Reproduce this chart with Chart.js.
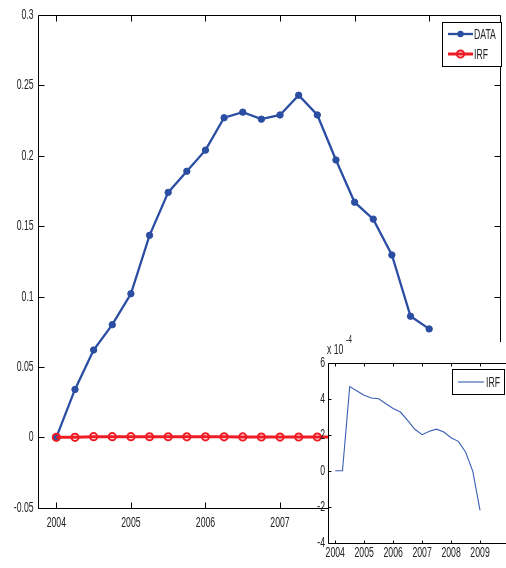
<!DOCTYPE html>
<html>
<head>
<meta charset="utf-8">
<script src="https://cdn.jsdelivr.net/npm/chart.js@4"></script>
<style>
html,body{margin:0;padding:0;background:#fff;overflow:hidden;width:506px;height:568px;}
#main{position:absolute;left:0;top:0;}
#inset{position:absolute;left:300px;top:335px;}
</style>
</head>
<body>
<canvas id="main" width="506" height="568"></canvas>
<canvas id="inset" width="215" height="233"></canvas>
<script>
// ---- data ----
const quarters = [2004, 2004.25, 2004.5, 2004.75, 2005, 2005.25, 2005.5, 2005.75, 2006, 2006.25, 2006.5,
                  2006.75, 2007, 2007.25, 2007.5, 2007.75, 2008, 2008.25, 2008.5, 2008.75, 2009];
const dataValues = [0, 0.034, 0.062, 0.080, 0.102, 0.1435, 0.174, 0.189, 0.204, 0.227, 0.231,
                    0.226, 0.229, 0.243, 0.229, 0.197, 0.167, 0.155, 0.1295, 0.086, 0.077];
// IRF in units of 1e-4
const irfValues = [0, 0, 4.67, 4.43, 4.19, 4.04, 4.0, 3.72, 3.46, 3.26, 2.8,
                   2.3, 2.0, 2.19, 2.31, 2.15, 1.83, 1.63, 1.04, -0.04, -2.2];
const irfScale = 1e-4;
const mainXTicks = [2004, 2005, 2006, 2007, 2008, 2009];
const mainYTicks = [-0.05, 0, 0.05, 0.1, 0.15, 0.2, 0.25, 0.3];
const insetXTicks = [2004, 2005, 2006, 2007, 2008, 2009];
const insetYTicks = [-4, -2, 0, 2, 4, 6];
const seriesNames = ['DATA', 'IRF'];

const BLUE = '#2b4ea3';
const RED = '#ee1c25';
const INSET_BLUE = '#3a5eb5';
const FONT = "'Liberation Sans', Arial, sans-serif";
const FSIZE = 14.5;
const SX = 0.6;   // horizontal squeeze of text, as in the reference
const TXT = '#222';

function pts(xs, ys, k) { return xs.map((x, i) => ({x: x, y: ys[i] * (k || 1)})); }

function fmt(v) {
  const r = Math.round(v * 1000) / 1000;
  return String(r);
}

function txt(ctx, s, x, y, align, size) {
  ctx.save();
  ctx.translate(x, y);
  ctx.scale(SX, 1);
  ctx.font = (size || FSIZE) + "px " + FONT;
  ctx.fillStyle = TXT;
  ctx.textAlign = align;
  ctx.textBaseline = 'middle';
  ctx.fillText(s, 0, 0);
  ctx.restore();
}

// Box + inward ticks on all four sides + tick labels
function boxPlugin(tickLen, xLabelY, yLabelPad, fmtY, fmtX) {
  return {
    id: 'box',
    afterDatasetsDraw(chart) {
      const {ctx, chartArea: a, scales} = chart;
      ctx.save();
      ctx.strokeStyle = '#000';
      ctx.lineWidth = 1;
      ctx.beginPath();
      const L = Math.round(a.left) + 0.5, R = Math.round(a.right) + 0.5;
      const T = Math.round(a.top) + 0.5, B = Math.round(a.bottom) + 0.5;
      ctx.rect(L, T, R - L, B - T);
      scales.x.ticks.forEach(t => {
        const px = Math.round(scales.x.getPixelForValue(t.value)) + 0.5;
        ctx.moveTo(px, B); ctx.lineTo(px, B - tickLen);
        ctx.moveTo(px, T); ctx.lineTo(px, T + tickLen);
      });
      scales.y.ticks.forEach(t => {
        const py = Math.round(scales.y.getPixelForValue(t.value)) + 0.5;
        ctx.moveTo(L, py); ctx.lineTo(L + tickLen, py);
        ctx.moveTo(R, py); ctx.lineTo(R - tickLen, py);
      });
      ctx.stroke();
      ctx.restore();
      scales.x.ticks.forEach(t => {
        txt(ctx, fmtX(t.value), scales.x.getPixelForValue(t.value), a.bottom + xLabelY, 'center');
      });
      scales.y.ticks.forEach(t => {
        txt(ctx, fmtY(t.value), a.left - yLabelPad, scales.y.getPixelForValue(t.value), 'right');
      });
    }
  };
}

// ---- main chart ----
const mainLegend = {
  id: 'mainLegend',
  afterDraw(chart) {
    const ctx = chart.ctx;
    const ds = chart.data.datasets;
    const bx = 442.5, by = 22.5, bw = 59, bh = 44;
    ctx.save();
    ctx.fillStyle = '#fff';
    ctx.fillRect(bx, by, bw, bh);
    ctx.strokeStyle = '#000';
    ctx.lineWidth = 1;
    ctx.strokeRect(bx, by, bw, bh);
    const rows = [34, 54];
    ds.forEach((d, i) => {
      const y = rows[i];
      ctx.strokeStyle = d.borderColor;
      ctx.lineWidth = d.borderWidth;
      ctx.beginPath(); ctx.moveTo(448, y); ctx.lineTo(473, y); ctx.stroke();
      ctx.beginPath(); ctx.arc(460.5, y, d.pointRadius, 0, Math.PI * 2);
      if (d.pointStyleFill) { ctx.fillStyle = d.borderColor; ctx.fill(); }
      else { ctx.lineWidth = d.pointBorderWidth; ctx.stroke(); }
      txt(ctx, d.label, 474, y + 0.5, 'left');
    });
    ctx.restore();
  }
};

new Chart(document.getElementById('main'), {
  type: 'line',
  data: {
    datasets: [
      {
        label: seriesNames[0],
        data: pts(quarters, dataValues),
        borderColor: BLUE, backgroundColor: BLUE,
        borderWidth: 2.3, pointRadius: 3.2, pointBorderWidth: 1,
        pointBackgroundColor: BLUE, pointBorderColor: BLUE,
        pointStyleFill: true, tension: 0, order: 2
      },
      {
        label: seriesNames[1],
        data: pts(quarters, irfValues, irfScale),
        borderColor: RED, backgroundColor: RED,
        borderWidth: 3, pointRadius: 3.6, pointBorderWidth: 2,
        pointBackgroundColor: 'rgba(255,255,255,0)', pointBorderColor: RED,
        pointStyleFill: false, tension: 0, order: 1
      }
    ]
  },
  options: {
    responsive: false, animation: false, devicePixelRatio: 1,
    layout: {padding: {top: 15, right: 4, left: 0, bottom: 0}},
    plugins: {legend: {display: false}, tooltip: {enabled: false}},
    scales: {
      x: {
        type: 'linear', min: 2003.75, max: 2009.95,
        afterBuildTicks: s => { s.ticks = mainXTicks.map(v => ({value: v})); },
        afterFit: s => { s.height = 60.3; },
        grid: {display: false, drawTicks: false}, border: {display: false},
        ticks: {display: false}
      },
      y: {
        type: 'linear', min: -0.05, max: 0.3,
        afterBuildTicks: s => { s.ticks = mainYTicks.map(v => ({value: v})); },
        afterFit: s => { s.width = 37.7; },
        grid: {display: false, drawTicks: false}, border: {display: false},
        ticks: {display: false}
      }
    }
  },
  plugins: [boxPlugin(6, 15.5, 4, fmt, v => String(v)), mainLegend]
});

// ---- inset chart ----
const insetDecor = {
  id: 'insetDecor',
  beforeDraw(chart) {
    const {ctx, chartArea: a} = chart;
    ctx.save();
    ctx.fillStyle = '#fff';
    ctx.fillRect(a.left, 7, chart.width - a.left, chart.height - 7);
    ctx.fillRect(0, a.bottom + 1, chart.width, chart.height - a.bottom);
    ctx.restore();
  },
  afterDraw(chart) {
    const {ctx, chartArea: a} = chart;
    const d = chart.data.datasets[0];
    // exponent label
    txt(ctx, 'x 10', a.left - 1, 14.5, 'left');
    txt(ctx, '-4', a.left + 18, 5, 'left', 11);
    // legend
    ctx.save();
    const bx = 152.5, by = 34.5, bw = 52, bh = 25;
    ctx.fillStyle = '#fff';
    ctx.fillRect(bx, by, bw, bh);
    ctx.strokeStyle = '#000';
    ctx.lineWidth = 1;
    ctx.strokeRect(bx, by, bw, bh);
    ctx.strokeStyle = d.borderColor;
    ctx.lineWidth = d.borderWidth;
    ctx.beginPath(); ctx.moveTo(158, 47); ctx.lineTo(184, 47); ctx.stroke();
    ctx.restore();
    txt(ctx, d.label, 186, 47.5, 'left');
  }
};

new Chart(document.getElementById('inset'), {
  type: 'line',
  data: {
    datasets: [{
      label: seriesNames[1],
      data: pts(quarters, irfValues),
      borderColor: INSET_BLUE, borderWidth: 1.1, pointRadius: 0, tension: 0
    }]
  },
  options: {
    responsive: false, animation: false, devicePixelRatio: 1,
    layout: {padding: {top: 27.7, right: 6, left: 0, bottom: 0}},
    plugins: {legend: {display: false}, tooltip: {enabled: false}},
    scales: {
      x: {
        type: 'linear', min: 2003.75, max: 2010,
        afterBuildTicks: s => { s.ticks = insetXTicks.map(v => ({value: v})); },
        afterFit: s => { s.height = 25.3; },
        grid: {display: false, drawTicks: false}, border: {display: false},
        ticks: {display: false}
      },
      y: {
        type: 'linear', min: -4, max: 6,
        afterBuildTicks: s => { s.ticks = insetYTicks.map(v => ({value: v})); },
        afterFit: s => { s.width = 28; },
        grid: {display: false, drawTicks: false}, border: {display: false},
        ticks: {display: false}
      }
    }
  },
  plugins: [boxPlugin(3, 10.5, 3, v => String(v), v => String(v)), insetDecor]
});
</script>
</body>
</html>
